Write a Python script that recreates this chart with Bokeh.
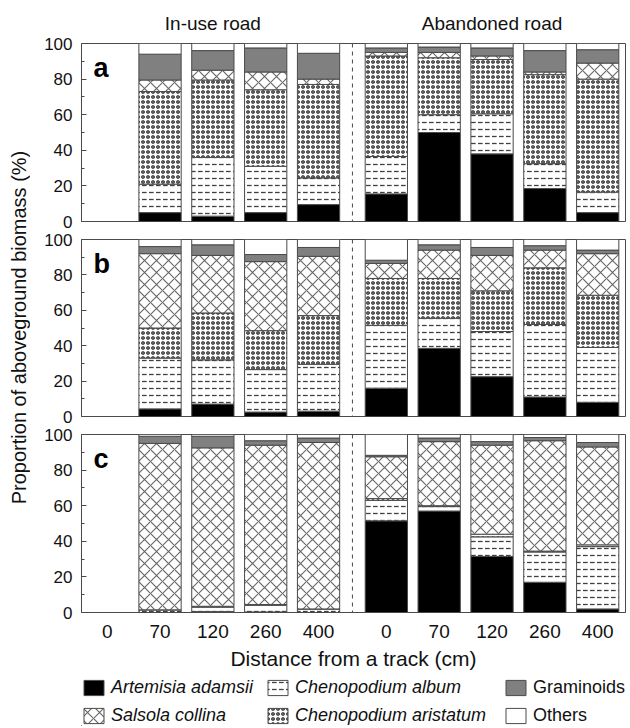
import math
from bokeh.plotting import figure
from bokeh.models import (Label, Span, Legend, LegendItem, ColumnDataSource,
                          FixedTicker, Range1d)
from bokeh.layouts import column, row
from bokeh.embed import file_html
from bokeh.resources import INLINE

# ---------------- data ----------------
roads = ["In-use road", "Abandoned road"]
distances = ["0", "70", "120", "260", "400"]
species = ["Artemisia adamsii", "Chenopodium album", "Chenopodium aristatum",
           "Salsola collina", "Graminoids", "Others"]
panel_letters = ["a", "b", "c"]
y_title = "Proportion of aboveground biomass (%)"
x_title = "Distance from a track (cm)"

# each list: in-use 0,70,120,260,400 then abandoned 0,70,120,260,400 (% of biomass)
a_artemisia = [0, 5.0, 3.0, 5.0, 9.5, 15.5, 50.0, 38.0, 18.5, 5.0]
a_album     = [0, 16.0, 33.0, 26.0, 15.0, 21.0, 10.0, 22.5, 14.0, 11.5]
a_aristatum = [0, 52.0, 43.5, 43.0, 52.5, 56.5, 32.0, 30.5, 50.0, 63.5]
a_salsola   = [0, 6.5, 5.5, 10.0, 3.0, 2.0, 3.0, 2.0, 1.5, 9.0]
a_graminoid = [0, 14.5, 11.0, 13.5, 14.5, 2.5, 3.0, 4.5, 12.0, 7.5]
a_others    = [0, 6.0, 4.0, 2.5, 5.5, 2.5, 2.0, 2.5, 4.0, 3.5]

b_artemisia = [0, 4.3, 7.0, 2.5, 3.0, 16.0, 38.5, 22.5, 11.0, 8.0]
b_album     = [0, 28.7, 25.0, 24.0, 26.5, 35.5, 17.0, 25.5, 41.0, 31.0]
b_aristatum = [0, 17.0, 26.5, 22.0, 27.5, 26.5, 22.5, 23.0, 32.0, 29.5]
b_salsola   = [0, 42.0, 32.5, 39.0, 33.5, 8.5, 16.0, 20.0, 10.0, 23.5]
b_graminoid = [0, 4.0, 6.0, 4.0, 5.0, 1.8, 3.0, 4.5, 2.5, 2.0]
b_others    = [0, 4.0, 3.0, 8.5, 4.5, 11.7, 3.0, 4.5, 3.5, 6.0]

c_artemisia = [0, 0.0, 0.5, 0.3, 0.0, 51.5, 57.0, 31.5, 17.0, 2.0]
c_album     = [0, 1.5, 2.5, 3.7, 2.0, 11.5, 2.5, 11.0, 17.0, 35.0]
c_aristatum = [0, 0.0, 0.5, 0.5, 0.0, 1.0, 0.5, 1.5, 0.5, 1.0]
c_salsola   = [0, 93.5, 89.0, 89.5, 93.5, 23.5, 36.0, 50.0, 62.0, 55.0]
c_graminoid = [0, 4.0, 6.5, 2.5, 2.5, 0.8, 2.0, 2.0, 1.8, 2.5]
c_others    = [0, 1.0, 1.0, 3.5, 2.0, 11.7, 2.0, 4.0, 1.7, 4.5]

panels = [
    [a_artemisia, a_album, a_aristatum, a_salsola, a_graminoid, a_others],
    [b_artemisia, b_album, b_aristatum, b_salsola, b_graminoid, b_others],
    [c_artemisia, c_album, c_aristatum, c_salsola, c_graminoid, c_others],
]

# ---------------- styling ----------------
FONT = "Liberation Sans"
EDGE = "#4a4a4a"
TXT = "#111111"
keys = ["art", "alb", "ari", "sal", "gra", "oth"]
fills = ["#000000", "#ffffff", "#ffffff", "#ffffff", "#808080", "#ffffff"]
patterns = [None, '"', "o", "x", None, None]
hcolors = ["#000000", "#404040", "#000000", "#666666", "#000000", "#000000"]
hscales = [12, 7, 5, 12, 12, 12]
hweights = [1, 1.3, 1.15, 1.1, 1, 1]

GROUP_GAP = 1.283
xs = [float(i) for i in range(5)] + [4 + GROUP_GAP + i for i in range(5)]
x_lo, x_hi = -0.486, xs[-1] + 0.526
BAR_W = 0.8

YL_W = 30          # width of the y-title strip
W = 596            # width of the panel column
LEFT, RIGHT = 51, 1
H_TITLE, H_LEG = 34, 54
heights = [196, 195, 247]
tops = [9, 9, 9]
bottoms = [9, 9, 60]
TOTAL_H = H_TITLE + sum(heights) + H_LEG


def blank_fig(width, height, xr, yr, left=0, right=0):
    f = figure(width=width, height=height, x_range=xr, y_range=yr,
               output_backend="svg", toolbar_location=None,
               x_axis_location=None, y_axis_location=None,
               min_border_left=left, min_border_right=right,
               min_border_top=0, min_border_bottom=0)
    f.grid.visible = False
    f.outline_line_color = None
    return f


# ---- title strip with the two road names ----
pt = blank_fig(W, H_TITLE, Range1d(x_lo, x_hi), Range1d(0, H_TITLE), LEFT, RIGHT)
for g, name in enumerate(roads):
    gx = sum(xs[g * 5:(g + 1) * 5]) / 5
    pt.add_layout(Label(x=gx, y=1, text=name, text_font=FONT,
                        text_font_size="19px", text_align="center",
                        text_baseline="bottom", text_color=TXT))

figs = []
for k, vals in enumerate(panels):
    last = (k == 2)
    p = figure(width=W, height=heights[k], x_range=Range1d(x_lo, x_hi),
               y_range=Range1d(0, 100), output_backend="svg",
               toolbar_location=None, x_axis_location="below" if last else None,
               min_border_left=LEFT, min_border_right=RIGHT,
               min_border_top=tops[k], min_border_bottom=bottoms[k])
    p.grid.visible = False
    p.outline_line_color = EDGE
    p.outline_line_width = 1

    data = {"x": []}
    for key in keys:
        data[key] = []
    for j in range(len(xs)):
        total = sum(v[j] for v in vals)
        if total <= 0:
            continue
        data["x"].append(xs[j])
        for key, v in zip(keys, vals):
            data[key].append(v[j])
    src = ColumnDataSource(data)
    p.vbar_stack(keys, x="x", width=BAR_W, source=src,
                 fill_color=fills, line_color=EDGE, line_width=1,
                 hatch_pattern=patterns, hatch_color=hcolors,
                 hatch_scale=hscales, hatch_weight=hweights)

    ya = p.yaxis[0]
    ya.ticker = FixedTicker(ticks=[0, 20, 40, 60, 80, 100],
                            minor_ticks=[10, 30, 50, 70, 90])
    ya.major_tick_in = 5
    ya.major_tick_out = 0
    ya.minor_tick_in = 3
    ya.minor_tick_out = 0
    ya.axis_line_color = EDGE
    ya.major_tick_line_color = EDGE
    ya.minor_tick_line_color = EDGE
    ya.major_label_text_font = FONT
    ya.major_label_text_font_size = "17px"
    ya.major_label_text_color = TXT
    ya.major_label_standoff = 9

    if last:
        xa = p.xaxis[0]
        xa.ticker = FixedTicker(ticks=xs)
        xa.major_label_overrides = {x: d for x, d in zip(xs, distances + distances)}
        xa.major_tick_line_color = None
        xa.minor_tick_line_color = None
        xa.axis_line_color = EDGE
        xa.major_label_text_font = FONT
        xa.major_label_text_font_size = "19px"
        xa.major_label_text_color = TXT
        xa.major_label_standoff = 6
        xa.axis_label = x_title
        xa.axis_label_text_font = FONT
        xa.axis_label_text_font_size = "21px"
        xa.axis_label_text_font_style = "normal"
        xa.axis_label_text_color = TXT
        xa.axis_label_standoff = 6

    p.add_layout(Span(location=(xs[4] + xs[5]) / 2, dimension="height",
                      line_color=EDGE, line_width=1, line_dash="4 4"))
    p.add_layout(Label(x=x_lo + 0.227, y=86, text=panel_letters[k],
                       text_font=FONT, text_font_size="27px",
                       text_font_style="bold", text_align="left",
                       text_baseline="alphabetic", text_color="#000000"))
    figs.append(p)

# ---- legend strip (swatch renderers sit outside the visible range) ----
pl = blank_fig(W, H_LEG, Range1d(x_lo, x_hi), Range1d(0, 100), LEFT, RIGHT)
leg_rs = []
for i in range(len(species)):
    leg_rs.append(pl.vbar(x=[x_lo - 10], top=[1], width=BAR_W, fill_color=fills[i],
                          line_color=EDGE, line_width=1,
                          hatch_pattern=patterns[i], hatch_color=hcolors[i],
                          hatch_scale=hscales[i], hatch_weight=hweights[i]))
cols = [([0, 3], (0, 0), "italic"),
        ([1, 2], (184, 0), "italic"),
        ([4, 5], (422, 0), "normal")]
for idx, loc, style in cols:
    items = [LegendItem(label=species[i], renderers=[leg_rs[i]]) for i in idx]
    lg = Legend(items=items, location=loc, orientation="vertical",
                padding=0, margin=0, spacing=7, glyph_width=25, glyph_height=19,
                label_height=19, label_standoff=5,
                label_text_font=FONT, label_text_font_size="18px",
                label_text_font_style=style, label_text_color=TXT,
                border_line_color=None, background_fill_alpha=0)
    pl.add_layout(lg, "center")

# ---- y-title strip ----
py = blank_fig(YL_W, TOTAL_H, Range1d(0, YL_W), Range1d(0, TOTAL_H))
py.add_layout(Label(x=18, y=TOTAL_H - 327, text=y_title, angle=math.pi / 2,
                    text_font=FONT, text_font_size="20px", text_align="center",
                    text_baseline="middle", text_color=TXT))

layout = row(py, column(pt, *figs, pl, spacing=0), spacing=0)
open("out.html", "w").write(file_html(layout, INLINE))
